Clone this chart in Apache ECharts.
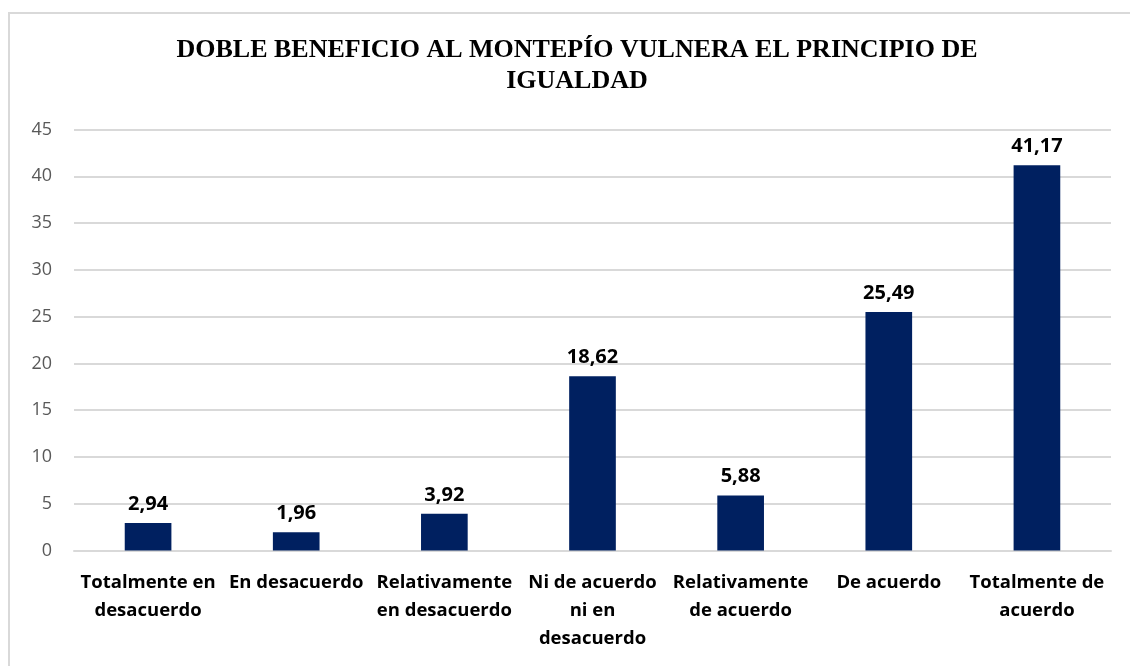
<!DOCTYPE html>
<html>
<head>
<meta charset="utf-8">
<script src="https://cdn.jsdelivr.net/npm/echarts@6/dist/echarts.min.js"></script>
<style>
  html, body { margin: 0; padding: 0; background: #fff; overflow: hidden; }
  #chart { position: absolute; left: 8px; top: 12px; width: 1140px; height: 660px;
           border: 2px solid #d9d9d9; box-sizing: border-box; }
</style>
</head>
<body>
<div id="chart"></div>
<script>
// categorias del eje x
var categorias = [
    'Totalmente en\ndesacuerdo',
    'En desacuerdo',
    'Relativamente\nen desacuerdo',
    'Ni de acuerdo\nni en\ndesacuerdo',
    'Relativamente\nde acuerdo',
    'De acuerdo',
    'Totalmente de\nacuerdo'
];
// porcentajes
var valores = [2.94, 1.96, 3.92, 18.62, 5.88, 25.49, 41.17];
var titulo = 'DOBLE BENEFICIO AL MONTEPÍO VULNERA EL PRINCIPIO DE\nIGUALDAD';

var myChart = echarts.init(document.getElementById('chart'));
var option = {
    animation: false,
    title: {
        text: titulo,
        left: 562,
        top: 16,
        textAlign: 'center',
        textStyle: {
            fontFamily: 'Liberation Serif',
            fontWeight: 'bold',
            fontSize: 26,
            lineHeight: 31,
            color: '#000'
        }
    },
    grid: { left: 64, right: 35, top: 115.5, bottom: 119.5 },
    xAxis: {
        type: 'category',
        data: categorias,
        axisLine: { show: true, lineStyle: { color: '#d9d9d9', width: 2 } },
        axisTick: { show: false },
        axisLabel: {
            interval: 0,
            margin: 18,
            fontFamily: 'Open Sans',
            fontWeight: 'bold',
            fontSize: 18.5,
            lineHeight: 28,
            color: '#000'
        }
    },
    yAxis: {
        type: 'value',
        min: 0,
        max: 45,
        interval: 5,
        axisLine: { show: false },
        axisTick: { show: false },
        splitLine: { lineStyle: { color: '#d9d9d9', width: 2 } },
        axisLabel: {
            margin: 22,
            fontFamily: 'Open Sans',
            fontSize: 18,
            color: '#595959'
        }
    },
    series: [{
        type: 'bar',
        data: valores,
        barWidth: '31.5%',
        itemStyle: { color: '#002060' },
        label: {
            show: true,
            position: 'top',
            distance: 9,
            fontFamily: 'Open Sans',
            fontWeight: 'bold',
            fontSize: 20,
            color: '#000',
            formatter: function (p) {
                return p.value.toFixed(2).replace('.', ',');
            }
        }
    }]
};
myChart.setOption(option);
</script>
</body>
</html>
